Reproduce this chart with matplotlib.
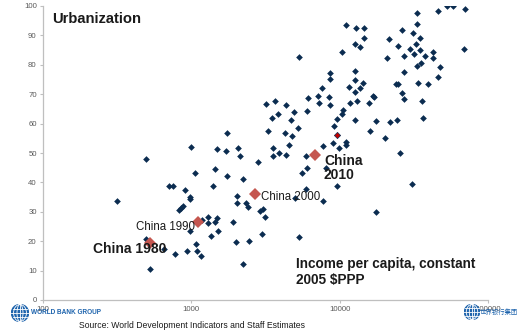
import matplotlib
matplotlib.use("Agg")
import matplotlib.pyplot as plt
from matplotlib.patches import Circle, Ellipse
from matplotlib.ticker import FixedLocator, NullLocator

plt.rcParams['font.family'] = ['Liberation Sans', 'DejaVu Sans']

# GDP per capita (constant 2005 $PPP) and urban share (%) by country
countries_income = [
    52700, 58400, 70400, 46100, 33300, 11100, 12800, 14500, 33300, 26400,
    31300, 34700, 14600, 21500, 32700, 24600, 12600, 13700, 29800, 34700,
    10300, 69300, 42800, 31600, 27000, 37500, 20800, 42600, 35600, 33100,
    47500, 27200, 12600, 46100, 12700, 14300, 23900, 24900, 33800, 39400,
    11600, 13800, 12700, 26200, 16900, 17100, 27300, 13000, 11800, 15700,
    35800, 10600, 10300, 12600, 17600, 21900, 24300, 36300, 16000, 20300,
    11000, 11000, 25400, 30800, 17600,
    5300, 8610, 8570, 7640, 6100, 7150, 8450, 7260, 8570, 3200,
    3650, 4370, 6000, 4930, 3830, 3500, 4680, 9550, 9210, 5220,
    3270, 4260, 4780, 1730, 4560, 7760, 8980, 1000, 1480, 2070,
    3540, 1710, 2140, 3570, 3900, 4330, 2820, 5960, 5550, 6000,
    9910, 8060, 9550, 1440, 1750, 2220, 1410, 2020, 2020, 2340,
    2420, 4980, 5910, 7760, 2910, 3060, 3130, 1920, 1480, 1450,
    1300, 1300, 1180, 1510, 1350, 2980, 2000, 2460, 5350, 1080,
    1090, 1160, 2240,
    493, 1060, 711, 749, 907, 975, 984, 317, 822, 857,
    883, 975, 493, 655, 931, 782, 527,
]
countries_urban = [
    100, 100, 98.9, 98.3, 97.5, 93.5, 92.5, 92.5, 93.9, 91.8,
    90.7, 89.1, 89.0, 88.7, 87.0, 86.4, 87.2, 86.0, 85.3, 85.0,
    84.5, 85.3, 84.3, 83.7, 83.0, 82.9, 82.2, 82.2, 80.6, 79.7,
    79.1, 77.4, 77.9, 75.7, 74.7, 73.8, 73.6, 73.4, 73.8, 73.6,
    72.6, 72.0, 70.6, 70.5, 69.4, 68.9, 68.4, 67.8, 67.0, 67.0,
    67.6, 64.5, 63.2, 61.1, 61.0, 60.5, 61.3, 61.9, 57.6, 55.0,
    53.7, 52.8, 49.9, 39.4, 29.8,
    82.6, 77.1, 75.1, 72.0, 68.8, 69.5, 69.1, 66.9, 66.2, 66.6,
    67.7, 66.4, 64.3, 64.0, 63.3, 61.8, 61.3, 61.6, 59.3, 58.5,
    57.4, 56.7, 55.8, 56.7, 52.8, 52.5, 53.5, 52.1, 51.4, 51.7,
    51.7, 50.6, 49.0, 49.0, 50.1, 49.3, 46.8, 49.1, 43.3, 45.0,
    51.6, 45.0, 38.9, 44.5, 42.3, 41.3, 38.8, 35.4, 33.1, 33.1,
    31.7, 34.8, 37.9, 33.7, 30.4, 31.0, 28.3, 26.6, 27.8, 26.6,
    28.1, 26.1, 27.2, 23.6, 21.8, 22.6, 19.8, 20.1, 21.3, 18.9,
    16.7, 15.1, 12.3,
    47.9, 43.2, 38.8, 38.8, 37.5, 34.9, 34.3, 33.7, 30.7, 31.4,
    32.0, 23.5, 20.9, 17.5, 16.8, 15.5, 10.7,
]

# China over time
china_years = [1980, 1990, 2000, 2010]
china_income = [524, 1110, 2690, 6860]
china_urban = [19.4, 26.5, 36.1, 49.3]

# one highlighted economy
marked_income = [9600]
marked_urban = [56.2]

x_ticks = [100, 1000, 10000, 100000]
x_tick_labels = ['100', '1000', '10000', '100000']
y_ticks = list(range(0, 101, 10))

navy = '#0b2c50'
china_red = '#c5564f'
grey = '#bfbfbf'
wb_blue = '#1e64ad'

fig = plt.figure(figsize=(5.21, 3.35), dpi=100)
ax = fig.add_axes([43 / 521, 35 / 335, 445 / 521, 294 / 335])

ax.plot(countries_income, countries_urban, linestyle='none', marker='D',
        markersize=3.4, color=navy, markeredgewidth=0)
ax.plot(marked_income, marked_urban, linestyle='none', marker='D',
        markersize=3.2, color='#c00000', markeredgecolor=navy,
        markeredgewidth=0.5)
ax.plot(china_income, china_urban, linestyle='none', marker='D',
        markersize=6.5, color=china_red, markeredgewidth=0, zorder=4)

# labels for the China points (offsets in pixels)
label_style = {
    1980: dict(xytext=(-57, -6), fontweight='bold', fontsize=10),
    1990: dict(xytext=(-62, -5), fontweight='normal', fontsize=8.3),
    2000: dict(xytext=(6, -3.5), fontweight='normal', fontsize=8.3),
    2010: dict(xytext=(8.5, -12.5), fontweight='bold', fontsize=10),
}
for yr, xi, yi in zip(china_years, china_income, china_urban):
    st = label_style[yr]
    txt = 'China\n%d' % yr if yr == 2010 else 'China %d' % yr
    ax.annotate(txt, (xi, yi), xytext=st['xytext'], textcoords='offset pixels',
                ha='left', va='center', fontsize=st['fontsize'],
                fontweight=st['fontweight'], color='#1a1a1a',
                linespacing=1.0, zorder=5)

ax.set_xscale('log')
ax.set_xlim(100, 100000)
ax.set_ylim(0, 100)
ax.xaxis.set_major_locator(FixedLocator(x_ticks))
ax.xaxis.set_minor_locator(NullLocator())
ax.set_xticklabels(x_tick_labels)
ax.set_yticks(y_ticks)

for side in ['top', 'right']:
    ax.spines[side].set_visible(False)
for side in ['left', 'bottom']:
    ax.spines[side].set_color(grey)
    ax.spines[side].set_linewidth(0.9)
ax.tick_params(axis='both', which='major', length=2.5, width=0.8,
               color=grey, labelsize=5.6, labelcolor='#595959', pad=2)

ax.text(0.02, 0.955, 'Urbanization', transform=ax.transAxes, fontsize=10.6,
        fontweight='bold', ha='left', va='center', color='#1a1a1a')
ax.text(296 / 521, (335 - 272) / 335, 'Income per capita, constant\n2005 $PPP',
        transform=fig.transFigure, fontsize=9.8, fontweight='bold',
        ha='left', va='center', linespacing=1.15, color='#1a1a1a')

fig.text(79 / 521, (335 - 325) / 335,
         'Source: World Development Indicators and Staff Estimates',
         fontsize=6.2, ha='left', va='center', color='#1a1a1a')


def draw_globe(cx, cy, r):
    gax = fig.add_axes([(cx - r) / 521, (335 - cy - r) / 335,
                        2 * r / 521, 2 * r / 335])
    gax.set_xlim(-1.05, 1.05)
    gax.set_ylim(-1.05, 1.05)
    gax.axis('off')
    gax.add_patch(Circle((0, 0), 1, facecolor=wb_blue, edgecolor=wb_blue))
    for w in [0.35, 0.75]:
        gax.add_patch(Ellipse((0, 0), 2 * w, 2, fill=False,
                              edgecolor='white', linewidth=0.6))
    gax.plot([0, 0], [-1, 1], color='white', linewidth=0.6)
    for yy in [-0.5, 0, 0.5]:
        half = (1 - yy ** 2) ** 0.5
        gax.plot([-half, half], [yy, yy], color='white', linewidth=0.6)
    gax.set_zorder(10)


draw_globe(20, 313, 9)
draw_globe(472, 312, 8)
fig.text(31 / 521, (335 - 312) / 335, 'WORLD BANK GROUP', fontsize=4.7,
         fontweight='bold', color=wb_blue, ha='left', va='center', zorder=10)
fig.text(480 / 521, (335 - 312) / 335, '世界银行集团', fontsize=4.6,
         family=['Noto Sans CJK SC', 'DejaVu Sans'], color=wb_blue,
         ha='left', va='center', zorder=10)

fig.savefig('out.png', dpi=100)
